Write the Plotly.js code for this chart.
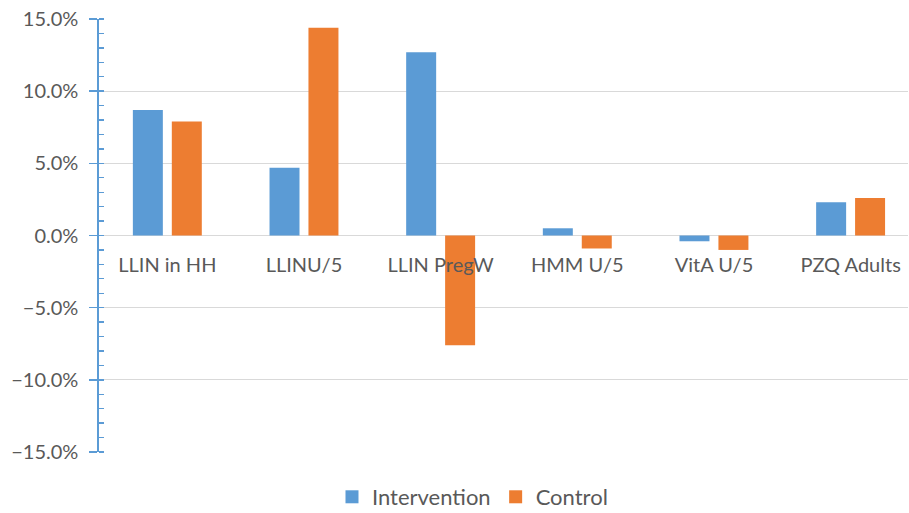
<!DOCTYPE html>
<html><head><meta charset="utf-8">
<script src="https://cdn.plot.ly/plotly-3.0.1.min.js"></script>
<style>html,body{margin:0;padding:0;background:#fff}</style>
</head><body>
<div id="chart" style="width:909px;height:513px"></div>
<script>
var categories = ["LLIN in HH", "LLINU/5", "LLIN PregW", "HMM U/5", "VitA U/5", "PZQ Adults"];
var intervention = [0.087, 0.047, 0.127, 0.005, -0.004, 0.023];
var control = [0.079, 0.144, -0.076, -0.009, -0.010, 0.026];
var seriesNames = ["Intervention", "Control"];
var seriesColors = ["#5B9BD5", "#ED7D31"];
var yTicks = [-0.15, -0.10, -0.05, 0, 0.05, 0.10, 0.15];

var font = {family: "Lato, 'Open Sans', sans-serif", size: 20, color: "#595959"};
var legendFont = {family: "Lato, 'Open Sans', sans-serif", size: 22, color: "#595959"};
var traces = [
  {type: "bar", x: categories, y: intervention, name: seriesNames[0], marker: {color: seriesColors[0]}, showlegend: false},
  {type: "bar", x: categories, y: control, name: seriesNames[1], marker: {color: seriesColors[1]}, showlegend: false},
  {type: "scatter", x: [null], y: [null], mode: "markers", name: seriesNames[0],
   marker: {symbol: "square", size: 13, color: seriesColors[0]}},
  {type: "scatter", x: [null], y: [null], mode: "markers", name: seriesNames[1],
   marker: {symbol: "square", size: 13, color: seriesColors[1]}},
  {type: "scatter", x: [categories[0]], y: [0], yaxis: "y2", mode: "markers", marker: {opacity: 0}, showlegend: false, hoverinfo: "skip"}
];
var layout = {
  width: 909, height: 513,
  margin: {l: 99, r: 1, t: 19, b: 61, autoexpand: false},
  paper_bgcolor: "#fff", plot_bgcolor: "#fff",
  font: font,
  barmode: "group", bargap: 0.43, bargroupgap: 0.23,
  showlegend: true,
  legend: {orientation: "h", x: 0.288, xanchor: "left", y: -0.1524, yanchor: "bottom",
           font: legendFont, itemwidth: 30, traceorder: "normal", borderwidth: 0},
  xaxis: {type: "category", range: [-0.5, 5.42], anchor: "free", position: 0.5, showline: false, showgrid: false,
          zeroline: false, ticks: "", tickfont: font, ticklabelstandoff: 15, fixedrange: true},
  yaxis: {range: [-0.15, 0.15], tickvals: yTicks, tickformat: ".1%", showgrid: true, gridcolor: "#D9D9D9",
          gridwidth: 1.3, zeroline: true, zerolinecolor: "#D9D9D9", zerolinewidth: 1.3,
          showline: true, linecolor: "#5B9BD5", linewidth: 1.6,
          ticks: "outside", ticklen: 8, tickcolor: "#5B9BD5", tickwidth: 1.6,
          minor: {dtick: 0.01, ticks: "inside", ticklen: 5, tickcolor: "#5B9BD5", tickwidth: 1.3, showgrid: false},
          tickfont: font, ticklabelstandoff: 7, fixedrange: true},
  yaxis2: {overlaying: "y", side: "left", range: [-0.15, 0.15], tickvals: yTicks, showticklabels: false,
           ticks: "inside", ticklen: 5, tickcolor: "#5B9BD5", tickwidth: 1.6, showgrid: false, zeroline: false,
           showline: false}
};
Plotly.newPlot("chart", traces, layout, {displayModeBar: false, staticPlot: true});
</script>
</body></html>
